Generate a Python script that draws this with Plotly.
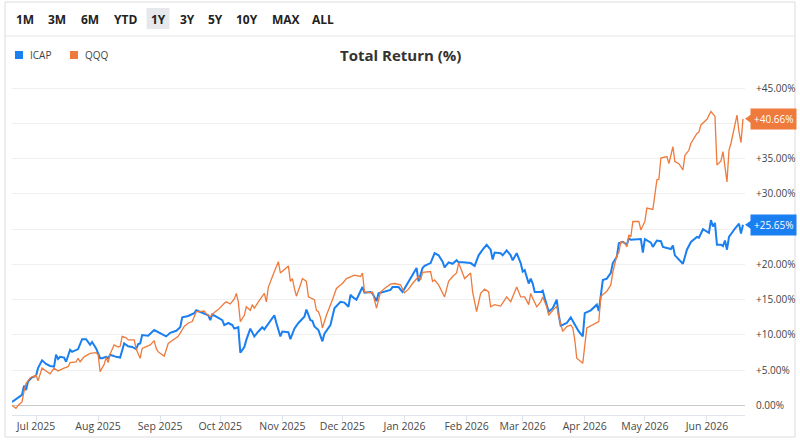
import plotly.graph_objects as go

# ---- data (total return, %) ----
icap_dates = [
    "2025-06-19", "2025-06-24", "2025-06-25", "2025-06-26", "2025-06-27", "2025-06-29", "2025-07-01", "2025-07-02", "2025-07-04", "2025-07-06",
    "2025-07-08", "2025-07-10", "2025-07-11", "2025-07-12", "2025-07-13", "2025-07-15", "2025-07-16", "2025-07-18", "2025-07-19", "2025-07-22",
    "2025-07-24", "2025-07-26", "2025-07-28", "2025-07-29", "2025-07-31", "2025-08-02", "2025-08-03", "2025-08-05", "2025-08-06", "2025-08-07",
    "2025-08-10", "2025-08-12", "2025-08-14", "2025-08-16", "2025-08-18", "2025-08-20", "2025-08-21", "2025-08-22", "2025-08-23", "2025-08-26",
    "2025-08-29", "2025-09-01", "2025-09-04", "2025-09-06", "2025-09-09", "2025-09-11", "2025-09-12", "2025-09-15", "2025-09-18", "2025-09-19",
    "2025-09-22", "2025-09-25", "2025-09-26", "2025-09-27", "2025-09-29", "2025-10-02", "2025-10-03", "2025-10-05", "2025-10-07", "2025-10-08",
    "2025-10-10", "2025-10-11", "2025-10-13", "2025-10-14", "2025-10-16", "2025-10-18", "2025-10-20", "2025-10-22", "2025-10-23", "2025-10-26",
    "2025-10-28", "2025-10-29", "2025-10-31", "2025-11-01", "2025-11-04", "2025-11-05", "2025-11-07", "2025-11-09", "2025-11-12", "2025-11-13",
    "2025-11-15", "2025-11-16", "2025-11-17", "2025-11-19", "2025-11-20", "2025-11-21", "2025-11-22", "2025-11-25", "2025-11-27", "2025-11-30",
    "2025-12-02", "2025-12-04", "2025-12-05", "2025-12-06", "2025-12-08", "2025-12-11", "2025-12-12", "2025-12-15", "2025-12-16", "2025-12-18",
    "2025-12-19", "2025-12-22", "2025-12-25", "2025-12-26", "2025-12-29", "2025-12-31", "2026-01-03", "2026-01-05", "2026-01-07", "2026-01-08",
    "2026-01-10", "2026-01-11", "2026-01-14", "2026-01-16", "2026-01-18", "2026-01-20", "2026-01-21", "2026-01-23", "2026-01-25", "2026-01-27",
    "2026-01-28", "2026-01-30", "2026-02-03", "2026-02-05", "2026-02-07", "2026-02-09", "2026-02-11", "2026-02-13", "2026-02-14", "2026-02-15",
    "2026-02-18", "2026-02-19", "2026-02-21", "2026-02-23", "2026-02-24", "2026-02-26", "2026-02-28", "2026-03-01", "2026-03-02", "2026-03-04",
    "2026-03-05", "2026-03-06", "2026-03-07", "2026-03-10", "2026-03-11", "2026-03-12", "2026-03-14", "2026-03-16", "2026-03-18", "2026-03-19",
    "2026-03-20", "2026-03-23", "2026-03-25", "2026-03-27", "2026-03-29", "2026-03-31", "2026-04-01", "2026-04-04", "2026-04-07", "2026-04-08",
    "2026-04-10", "2026-04-12", "2026-04-14", "2026-04-15", "2026-04-17", "2026-04-18", "2026-04-20", "2026-04-22", "2026-04-23", "2026-04-24",
    "2026-04-29", "2026-04-30", "2026-05-01", "2026-05-04", "2026-05-05", "2026-05-07", "2026-05-09", "2026-05-10", "2026-05-14", "2026-05-15",
    "2026-05-16", "2026-05-20", "2026-05-22", "2026-05-24", "2026-05-27", "2026-05-28", "2026-05-30", "2026-06-02", "2026-06-03", "2026-06-04",
    "2026-06-05", "2026-06-06", "2026-06-08", "2026-06-09", "2026-06-10", "2026-06-11", "2026-06-12", "2026-06-15", "2026-06-17", "2026-06-18",
    "2026-06-19",
]
icap_ret = [
    0.5, 1.5, 2.8, 2.2, 3.4, 4.0, 4.2, 5.3, 6.4, 5.9,
    5.6, 5.5, 7.2, 6.6, 6.9, 6.8, 6.2, 7.9, 7.6, 8.0,
    9.4, 9.4, 8.6, 9.0, 8.1, 6.7, 6.7, 6.9, 6.7, 7.2,
    6.9, 6.8, 8.8, 8.4, 8.3, 8.0, 8.7, 8.8, 10.0, 9.9,
    10.7, 10.2, 9.8, 10.3, 10.6, 11.1, 12.5, 12.7, 13.1, 13.5,
    13.1, 12.8, 12.1, 12.9, 12.6, 12.1, 11.4, 11.7, 11.4, 10.9,
    11.1, 7.5, 8.3, 9.3, 10.9, 9.8, 10.5, 11.1, 10.8, 12.1,
    12.8, 11.7, 9.8, 10.5, 10.4, 9.4, 10.9, 11.7, 12.6, 13.6,
    12.1, 12.0, 11.2, 10.7, 9.8, 9.1, 10.2, 11.4, 13.8, 14.7,
    14.6, 14.0, 15.7, 15.4, 15.0, 16.8, 16.0, 16.1, 15.9, 14.8,
    15.9, 16.1, 16.4, 16.8, 16.8, 16.1, 17.6, 18.6, 19.5, 17.6,
    19.5, 19.8, 20.2, 21.6, 21.3, 20.4, 19.6, 20.3, 20.1, 20.6,
    20.3, 20.3, 20.2, 19.8, 21.3, 22.1, 22.8, 22.1, 20.7, 21.7,
    21.6, 21.3, 22.0, 21.3, 20.6, 21.6, 20.2, 19.0, 19.2, 17.3,
    18.0, 17.3, 16.1, 16.1, 16.3, 15.2, 13.3, 13.8, 15.0, 12.8,
    11.3, 11.7, 12.5, 11.5, 10.5, 9.8, 13.1, 13.5, 14.3, 13.4,
    17.8, 18.0, 18.8, 20.2, 21.1, 23.0, 23.2, 22.8, 23.7, 23.5,
    23.6, 21.7, 23.6, 23.1, 22.5, 23.4, 23.3, 22.5, 22.2, 22.7,
    21.3, 20.1, 22.1, 23.2, 23.9, 23.8, 25.0, 24.5, 26.3, 25.4,
    25.9, 22.8, 22.8, 22.6, 23.4, 22.1, 23.9, 25.1, 25.8, 24.4,
    25.65,
]

qqq_dates = [
    "2025-06-19", "2025-06-21", "2025-06-22", "2025-06-24", "2025-06-25", "2025-06-26", "2025-06-28", "2025-06-30", "2025-07-01", "2025-07-02",
    "2025-07-04", "2025-07-06", "2025-07-08", "2025-07-10", "2025-07-12", "2025-07-15", "2025-07-17", "2025-07-18", "2025-07-21", "2025-07-22",
    "2025-07-23", "2025-07-25", "2025-07-28", "2025-07-31", "2025-08-01", "2025-08-02", "2025-08-04", "2025-08-05", "2025-08-06", "2025-08-07",
    "2025-08-09", "2025-08-11", "2025-08-12", "2025-08-13", "2025-08-15", "2025-08-16", "2025-08-19", "2025-08-20", "2025-08-22", "2025-08-23",
    "2025-08-25", "2025-08-27", "2025-08-29", "2025-08-30", "2025-08-31", "2025-09-03", "2025-09-05", "2025-09-08", "2025-09-10", "2025-09-13",
    "2025-09-15", "2025-09-17", "2025-09-19", "2025-09-21", "2025-09-23", "2025-09-24", "2025-09-26", "2025-09-28", "2025-09-30", "2025-10-03",
    "2025-10-04", "2025-10-06", "2025-10-08", "2025-10-09", "2025-10-10", "2025-10-11", "2025-10-13", "2025-10-14", "2025-10-16", "2025-10-17",
    "2025-10-18", "2025-10-20", "2025-10-23", "2025-10-24", "2025-10-25", "2025-10-28", "2025-10-30", "2025-10-31", "2025-11-02", "2025-11-04",
    "2025-11-05", "2025-11-06", "2025-11-07", "2025-11-08", "2025-11-10", "2025-11-11", "2025-11-13", "2025-11-14", "2025-11-17", "2025-11-18",
    "2025-11-19", "2025-11-20", "2025-11-21", "2025-11-23", "2025-11-26", "2025-11-28", "2025-11-30", "2025-12-01", "2025-12-03", "2025-12-06",
    "2025-12-07", "2025-12-10", "2025-12-11", "2025-12-12", "2025-12-15", "2025-12-16", "2025-12-18", "2025-12-20", "2025-12-22", "2025-12-25",
    "2025-12-27", "2025-12-30", "2026-01-01", "2026-01-03", "2026-01-05", "2026-01-08", "2026-01-09", "2026-01-10", "2026-01-14", "2026-01-15",
    "2026-01-16", "2026-01-18", "2026-01-20", "2026-01-21", "2026-01-23", "2026-01-25", "2026-01-27", "2026-01-28", "2026-01-29", "2026-01-31",
    "2026-02-03", "2026-02-04", "2026-02-06", "2026-02-08", "2026-02-10", "2026-02-12", "2026-02-13", "2026-02-15", "2026-02-18", "2026-02-20",
    "2026-02-21", "2026-02-23", "2026-02-24", "2026-02-26", "2026-02-28", "2026-03-02", "2026-03-04", "2026-03-05", "2026-03-06", "2026-03-08",
    "2026-03-10", "2026-03-11", "2026-03-13", "2026-03-14", "2026-03-16", "2026-03-18", "2026-03-19", "2026-03-21", "2026-03-23", "2026-03-25",
    "2026-03-26", "2026-03-27", "2026-03-28", "2026-03-31", "2026-04-02", "2026-04-05", "2026-04-08", "2026-04-09", "2026-04-12", "2026-04-14",
    "2026-04-15", "2026-04-17", "2026-04-18", "2026-04-19", "2026-04-21", "2026-04-22", "2026-04-23", "2026-04-24", "2026-04-25", "2026-04-28",
    "2026-04-29", "2026-05-01", "2026-05-02", "2026-05-05", "2026-05-07", "2026-05-08", "2026-05-09", "2026-05-12", "2026-05-13", "2026-05-15",
    "2026-05-16", "2026-05-18", "2026-05-20", "2026-05-21", "2026-05-23", "2026-05-24", "2026-05-27", "2026-05-28", "2026-05-29", "2026-06-01",
    "2026-06-03", "2026-06-05", "2026-06-06", "2026-06-08", "2026-06-09", "2026-06-11", "2026-06-12", "2026-06-13", "2026-06-16", "2026-06-17",
    "2026-06-18", "2026-06-19",
]
qqq_ret = [
    0.0, -0.4, 0.0, 0.5, 2.0, 3.1, 3.9, 4.1, 4.3, 3.5,
    5.3, 4.9, 4.5, 5.3, 4.9, 5.3, 5.5, 6.1, 6.2, 6.7,
    6.2, 6.9, 7.4, 7.5, 7.2, 4.8, 5.8, 6.8, 6.1, 7.3,
    8.6, 8.3, 8.4, 9.8, 9.6, 9.3, 9.3, 8.0, 6.7, 8.1,
    8.3, 8.6, 9.2, 8.1, 7.6, 7.0, 8.8, 9.4, 9.8, 11.2,
    11.7, 11.9, 13.3, 13.3, 13.4, 13.0, 12.6, 13.2, 13.6, 14.5,
    14.7, 14.4, 15.1, 15.9, 14.7, 11.9, 12.8, 14.0, 13.5, 14.3,
    13.8, 14.7, 15.9, 14.7, 16.8, 19.0, 20.4, 18.8, 19.3, 19.8,
    17.6, 18.0, 16.6, 15.5, 17.1, 18.0, 17.6, 15.4, 15.0, 13.5,
    13.3, 12.5, 11.0, 12.8, 15.0, 16.6, 17.1, 17.3, 18.0, 18.3,
    18.5, 18.3, 18.8, 16.1, 16.0, 16.1, 13.8, 16.1, 16.6, 17.2,
    17.3, 17.1, 16.0, 16.5, 17.3, 18.3, 17.8, 18.9, 19.0, 17.6,
    17.8, 17.1, 16.1, 15.4, 17.6, 18.3, 18.8, 20.2, 19.5, 18.0,
    18.8, 16.1, 13.3, 15.9, 16.5, 16.1, 14.0, 14.3, 14.1, 15.0,
    15.4, 14.7, 15.5, 16.8, 15.4, 15.4, 14.3, 15.9, 15.2, 14.0,
    14.7, 15.4, 14.0, 12.8, 13.5, 14.1, 12.6, 10.5, 11.2, 11.4,
    11.0, 9.3, 6.7, 6.0, 11.0, 11.4, 11.9, 15.5, 16.2, 17.1,
    18.9, 21.3, 21.7, 23.2, 23.1, 22.5, 24.2, 23.9, 26.1, 26.1,
    24.9, 26.1, 28.0, 27.8, 32.0, 32.1, 35.1, 35.3, 34.3, 36.7,
    34.6, 34.3, 33.4, 35.5, 36.2, 37.2, 38.6, 38.8, 39.8, 40.6,
    41.7, 41.0, 34.1, 34.7, 36.0, 31.7, 36.2, 37.2, 41.2, 38.8,
    37.3, 40.66,
]

# +25% and +40% sit behind the last-value tags in the reference, so no text there
y_ticks = [0, 5, 10, 15, 20, 25, 30, 35, 40, 45]
y_tick_text = ["0.00%", "+5.00%", "+10.00%", "+15.00%", "+20.00%", "",
               "+30.00%", "+35.00%", "", "+45.00%"]
range_buttons = ["1M", "3M", "6M", "YTD", "1Y", "3Y", "5Y", "10Y", "MAX", "ALL"]
active_button = "1Y"

BLUE = "#1a7ff0"
ORANGE = "#ee7a3b"
FONT = "Open Sans"

# plot box in pixels
W, H = 800, 440
ML, MR, MT, MB = 12, 55, 80, 25
PW = W - ML - MR
PH = H - MT - MB


def px2x(px):
    return (px - ML) / PW


def px2y(py):
    return (H - MB - py) / PH


fig = go.Figure()
fig.add_trace(go.Scatter(x=icap_dates, y=icap_ret, name="ICAP", mode="lines",
                         line=dict(color=BLUE, width=2)))
fig.add_trace(go.Scatter(x=qqq_dates, y=qqq_ret, name="QQQ", mode="lines",
                         line=dict(color=ORANGE, width=1.3)))

shapes = []
annotations = []

# outer card and separator under the range buttons
shapes.append(dict(type="rect", xref="paper", yref="paper", x0=px2x(5), x1=px2x(795),
                   y0=px2y(437), y1=px2y(2), line=dict(color="#dcdcdc", width=1), layer="below"))
shapes.append(dict(type="line", xref="paper", yref="paper", x0=px2x(5), x1=px2x(795),
                   y0=px2y(36), y1=px2y(36), line=dict(color="#e6e6e6", width=1)))

# range buttons
btn_x = [25, 57, 90, 125, 158, 187, 215, 247, 286, 323]
for lab, bx in zip(range_buttons, btn_x):
    if lab == active_button:
        shapes.append(dict(type="rect", xref="paper", yref="paper", x0=px2x(bx - 11.5), x1=px2x(bx + 11.5),
                           y0=px2y(29), y1=px2y(8), fillcolor="#e7e8eb", line=dict(width=0), layer="below"))
    annotations.append(dict(xref="paper", yref="paper", x=px2x(bx), y=px2y(19), text=f"<b>{lab}</b>",
                            xanchor="center", yanchor="middle", showarrow=False,
                            font=dict(family=FONT, size=12, color="#222")))

# legend (squares + names)
for name, col, sx in [("ICAP", BLUE, 15), ("QQQ", ORANGE, 70)]:
    shapes.append(dict(type="rect", xref="paper", yref="paper", x0=px2x(sx), x1=px2x(sx + 8),
                       y0=px2y(59), y1=px2y(51), fillcolor=col, line=dict(width=0)))
    annotations.append(dict(xref="paper", yref="paper", x=px2x(sx + 13), y=px2y(55), text=name,
                            xanchor="left", yanchor="middle", showarrow=False,
                            font=dict(family=FONT, size=10, color="#444")))

# title
annotations.append(dict(xref="paper", yref="paper", x=px2x(400), y=px2y(55), text="<b>Total Return (%)</b>",
                        xanchor="center", yanchor="middle", showarrow=False,
                        font=dict(family=FONT, size=15, color="#333")))

# last value tags on the right
for vals, col in [(qqq_ret, ORANGE), (icap_ret, BLUE)]:
    last = vals[-1]
    annotations.append(dict(xref="paper", yref="y", x=px2x(750), y=last, xanchor="left", yanchor="middle",
                            text=f"+{last:.2f}%", showarrow=False, bgcolor=col, borderpad=3,
                            font=dict(family=FONT, size=10, color="white")))
    shapes.append(dict(type="path", xref="paper", yref="y",
                       path=f"M {px2x(745)},{last} L {px2x(751)},{last + 0.6} L {px2x(751)},{last - 0.6} Z",
                       fillcolor=col, line=dict(width=0)))

fig.update_layout(
    width=W, height=H,
    margin=dict(l=ML, r=MR, t=MT, b=MB),
    paper_bgcolor="white", plot_bgcolor="white",
    showlegend=False,
    hovermode="x unified",
    font=dict(family=FONT, color="#444"),
    shapes=shapes,
    annotations=annotations,
)
fig.update_xaxes(
    type="date", range=["2025-06-19", "2026-06-20"],
    dtick="M1", tickformat="%b %Y", tick0="2025-07-01",
    showgrid=False, showline=True, linecolor="#dfe3ea",
    ticks="outside", ticklen=5, tickcolor="#dfe3ea",
    ticklabelstandoff=-4,
    tickfont=dict(family=FONT, size=10.5, color="#484848"),
    automargin=False,
)
fig.update_yaxes(
    side="right", range=[-1.35, 46.17],
    tickvals=y_ticks, ticktext=y_tick_text,
    showgrid=True, gridcolor="#efefef",
    zeroline=True, zerolinecolor="#c9c9c9", zerolinewidth=1,
    ticks="outside", ticklen=8, tickcolor="rgba(0,0,0,0)",
    tickfont=dict(family=FONT, size=10, color="#444"),
    automargin=False,
)

# drop the default body margin so the 800x440 figure fills the window
fig.write_html("out.html", config={"displayModeBar": False},
               post_script="document.body.style.margin='0';")
